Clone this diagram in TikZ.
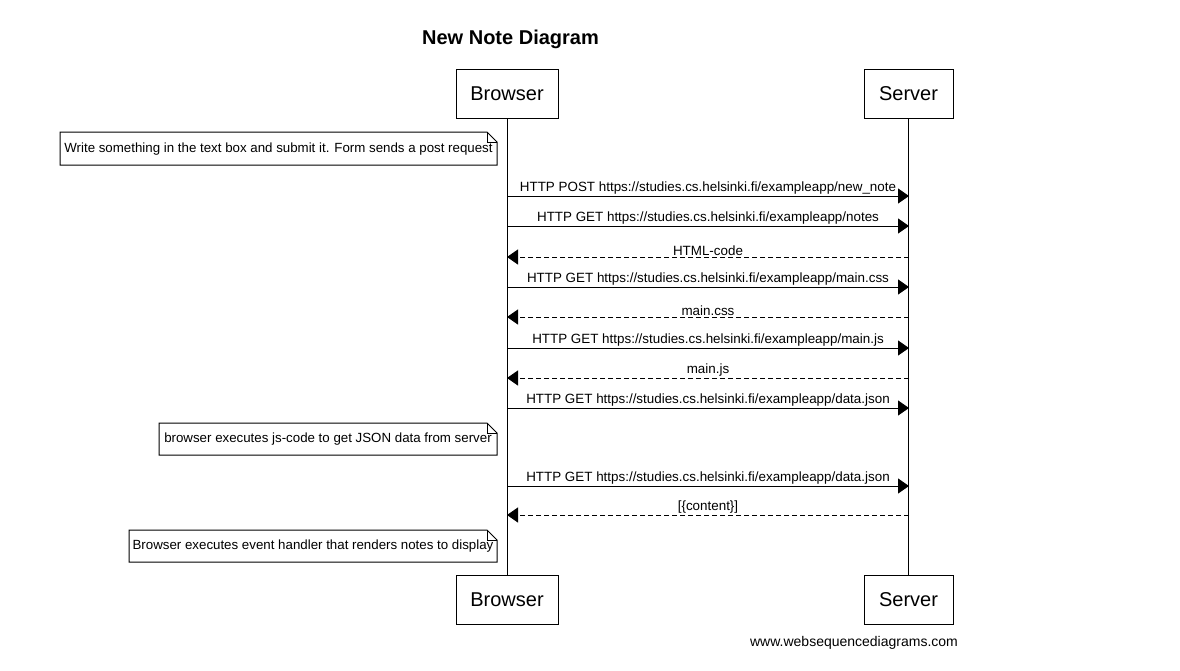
\documentclass[tikz,border=0pt]{standalone}
\usepackage{fontspec}
\setmainfont{Liberation Sans}
\usetikzlibrary{arrows.meta}
\begin{document}
\begin{tikzpicture}[x=1pt,y=-1pt,line width=1pt,
  actor/.style={draw,minimum height=49pt,inner sep=0pt,font=\fontsize{20}{24}\selectfont},
  msglabel/.style={font=\fontsize{13.4}{15}\selectfont,above,inner sep=0.8pt},
  msg/.style={-{Triangle[length=11pt,width=15pt]}},
  ret/.style={msg,dash pattern=on 5pt off 3pt},
  notetext/.style={inner sep=0pt,font=\fontsize{13.3}{15}\selectfont},
  lifeline/.style={line width=1pt}]
\useasboundingbox (0,0) rectangle (1180,670);
\fill[white] (0,0) rectangle (1180,670);

\node[font=\bfseries\fontsize{20}{24}\selectfont] (title) at (510.5,39) {New Note Diagram};

\node[actor,minimum width=102pt] (bt) at (507,93.5) {Browser};
\node[actor,minimum width=89pt] (st) at (908.5,93.5) {Server};
\node[actor,minimum width=102pt] (bb) at (507,599.5) {Browser};
\node[actor,minimum width=89pt] (sb) at (908.5,599.5) {Server};

\draw[lifeline] (bt.south) -- (bb.north);
\draw[lifeline] (st.south) -- (sb.north);

% notes
\newcommand{\drawnote}[5]{% name, left, right, top, bottom
  \draw (#2,#4) -- (#3-10,#4) -- (#3,#4+10) -- (#3,#5) -- (#2,#5) -- cycle;
  \draw[line width=0.6pt] (#3-10,#4) -- (#3-10,#4+10) -- (#3,#4+10);
}
\drawnote{n1}{60}{497}{132}{165}
\node[notetext] (n1) at (278.5,149) {Write something in the text box and submit it. Form sends a post request};
\drawnote{n2}{159}{497}{423}{455}
\node[notetext] (n2) at (328,439.5) {browser executes js-code to get JSON data from server};
\drawnote{n3}{129}{497}{530}{562}
\node[notetext] (n3) at (313,546.5) {Browser executes event handler that renders notes to display};

% message coordinates
\foreach \i/\y in {1/196,2/226,3/257,4/287,5/317,6/348,7/378,8/408,9/486,10/515}{
  \coordinate (b\i) at (507,\y);
  \coordinate (s\i) at (909,\y);
}
\draw[msg] (b1) -- node[msglabel] {HTTP POST https://studies.cs.helsinki.fi/exampleapp/new\_note} (s1);
\draw[msg] (b2) -- node[msglabel] {HTTP GET https://studies.cs.helsinki.fi/exampleapp/notes} (s2);
\draw[ret] (s3) -- node[msglabel] {HTML-code} (b3);
\draw[msg] (b4) -- node[msglabel] {HTTP GET https://studies.cs.helsinki.fi/exampleapp/main.css} (s4);
\draw[ret] (s5) -- node[msglabel] {main.css} (b5);
\draw[msg] (b6) -- node[msglabel] {HTTP GET https://studies.cs.helsinki.fi/exampleapp/main.js} (s6);
\draw[ret] (s7) -- node[msglabel] {main.js} (b7);
\draw[msg] (b8) -- node[msglabel] {HTTP GET https://studies.cs.helsinki.fi/exampleapp/data.json} (s8);
\draw[msg] (b9) -- node[msglabel] {HTTP GET https://studies.cs.helsinki.fi/exampleapp/data.json} (s9);
\draw[ret] (s10) -- node[msglabel] {[\{content\}]} (b10);

\node[font=\fontsize{14}{16}\selectfont] (footer) at (854,643) {www.websequencediagrams.com};
\end{tikzpicture}
\end{document}
